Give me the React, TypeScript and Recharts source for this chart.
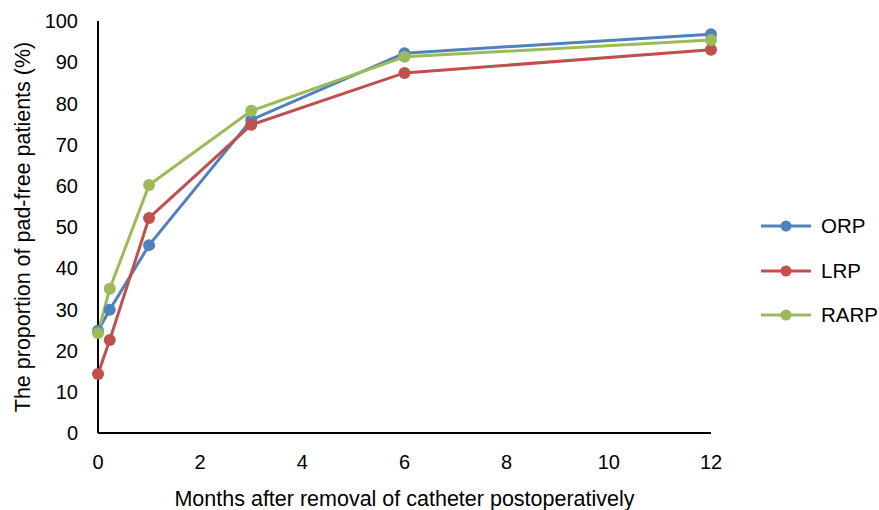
import React from 'react';
import { LineChart, Line, XAxis, YAxis, Legend } from 'recharts';

const months = [0, 0.23, 1, 3, 6, 12];
const orp = [24.8, 29.9, 45.6, 76, 92.2, 96.8];
const lrp = [14.3, 22.6, 52.2, 74.8, 87.4, 93];
const rarp = [24.3, 35, 60.2, 78.2, 91.3, 95.4];
const xTicks = [0, 2, 4, 6, 8, 10, 12];
const yTicks = [0, 10, 20, 30, 40, 50, 60, 70, 80, 90, 100];

const series = [
  { key: 'ORP', color: '#4F81BD' },
  { key: 'LRP', color: '#C0504D' },
  { key: 'RARP', color: '#9BBB59' },
];

const data = months.map((m, i) => ({ month: m, ORP: orp[i], LRP: lrp[i], RARP: rarp[i] }));

const FONT = '"Liberation Sans", Arial, sans-serif';

function LegendBox() {
  return (
    <div style={{ fontFamily: FONT, fontSize: 20.5, color: '#000', whiteSpace: 'nowrap' }}>
      {series.map((s) => (
        <div key={s.key} style={{ display: 'flex', alignItems: 'center', height: 44.5 }}>
          <svg width={52} height={14} style={{ marginRight: 9, flexShrink: 0 }}>
            <line x1={1} y1={7} x2={51} y2={7} stroke={s.color} strokeWidth={3} />
            <circle cx={26} cy={7} r={5.5} fill={s.color} />
          </svg>
          <span>{s.key}</span>
        </div>
      ))}
    </div>
  );
}

export default function App() {
  return (
    <div style={{ width: 879, height: 510 }}>
      <style>{'html, body { margin: 0; padding: 0; overflow: hidden; }'}</style>
      <LineChart
        width={879}
        height={510}
        data={data}
        margin={{ top: 21, right: 168, left: 0, bottom: 0 }}
        style={{ fontFamily: FONT }}
      >
        <XAxis
          dataKey="month"
          type="number"
          domain={[0, 12]}
          ticks={xTicks}
          tickLine={false}
          axisLine={{ stroke: '#000', strokeWidth: 2 }}
          tick={{ fontSize: 20, fill: '#000', dy: 14 }}
          height={77}
          label={{
            value: 'Months after removal of catheter postoperatively',
            position: 'insideBottom',
            offset: 4,
            style: { fontSize: 21.5, fill: '#000' },
          }}
        />
        <YAxis
          domain={[0, 100]}
          ticks={yTicks}
          tickLine={false}
          axisLine={{ stroke: '#000', strokeWidth: 2 }}
          tick={{ fontSize: 20, fill: '#000', dx: -12 }}
          width={98}
          label={{
            value: 'The proportion of pad-free patients (%)',
            angle: -90,
            position: 'insideLeft',
            offset: 22,
            style: { fontSize: 21.5, fill: '#000', textAnchor: 'middle' },
          }}
        />
        <Legend
          layout="vertical"
          align="center"
          verticalAlign="middle"
          content={() => <LegendBox />}
          wrapperStyle={{ position: 'absolute', left: 760, top: 204, width: 119, height: 134 }}
        />
        {series.map((s) => (
          <Line
            key={s.key}
            type="linear"
            dataKey={s.key}
            stroke={s.color}
            strokeWidth={3}
            dot={{ r: 6, fill: s.color, stroke: s.color, strokeWidth: 0 }}
            isAnimationActive={false}
          />
        ))}
      </LineChart>
    </div>
  );
}
